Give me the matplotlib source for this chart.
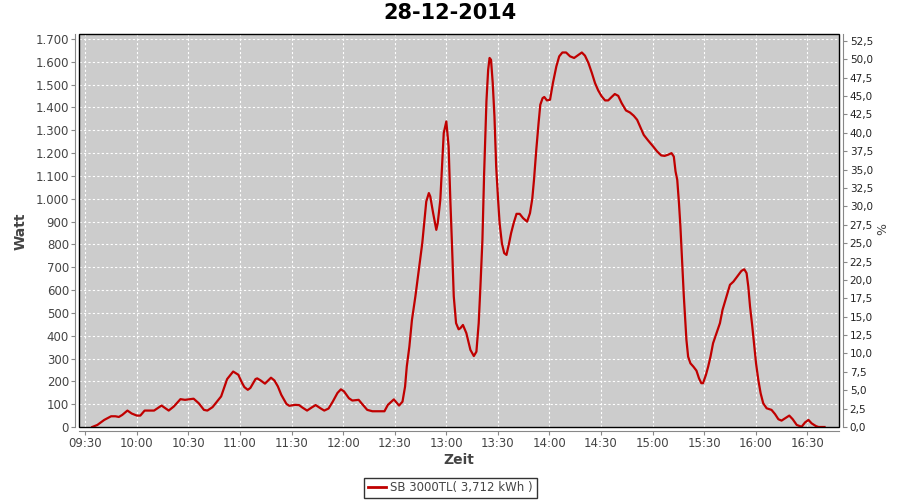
import datetime as dt
import matplotlib
matplotlib.use('Agg')
import matplotlib.pyplot as plt
import matplotlib.dates as mdates
import pandas as pd
from matplotlib.patches import Rectangle
from matplotlib.lines import Line2D
from matplotlib.ticker import MultipleLocator, FuncFormatter

# Textos
titel = '28-12-2014'
serie = 'SB 3000TL( 3,712 kWh )'
x_label = 'Zeit'
y_label = 'Watt'
y2_label = '%'

zeiten = [
    '09:34:00', '09:37:00', '09:41:00', '09:45:00', '09:47:30', '09:49:30', '09:51:30',
    '09:54:30', '09:57:00', '10:00:00', '10:02:00', '10:04:30', '10:10:00', '10:14:20',
    '10:18:30', '10:21:30', '10:25:20', '10:28:00', '10:33:00', '10:36:00', '10:39:00',
    '10:41:00', '10:44:00', '10:49:00', '10:52:30', '10:56:00', '10:59:00', '11:01:00',
    '11:02:30', '11:04:30', '11:06:00', '11:09:00', '11:10:00', '11:12:00', '11:14:30',
    '11:18:00', '11:20:00', '11:22:00', '11:24:00', '11:27:00', '11:28:40', '11:32:00',
    '11:34:20', '11:36:20', '11:39:00', '11:42:00', '11:44:00', '11:47:00', '11:49:00',
    '11:51:30', '11:54:00', '11:56:40', '11:58:40', '12:00:30', '12:03:20', '12:05:20',
    '12:09:00', '12:11:00', '12:14:00', '12:17:00', '12:24:00', '12:26:00', '12:29:30',
    '12:32:30', '12:34:30', '12:36:00', '12:37:00', '12:38:30', '12:40:00', '12:42:00',
    '12:44:00', '12:46:00', '12:47:20', '12:48:20', '12:49:50', '12:50:40', '12:52:20',
    '12:54:10', '12:55:00', '12:56:30', '12:57:30', '12:58:30', '13:00:00', '13:01:20',
    '13:02:20', '13:03:20', '13:04:20', '13:05:40', '13:07:10', '13:08:10', '13:09:40',
    '13:11:40', '13:14:00', '13:16:00', '13:17:30', '13:18:50', '13:19:50', '13:21:00',
    '13:22:00', '13:23:20', '13:24:20', '13:25:10', '13:26:00', '13:27:00', '13:28:00',
    '13:29:00', '13:30:00', '13:31:00', '13:32:20', '13:33:40', '13:35:00', '13:36:30',
    '13:37:40', '13:39:10', '13:40:50', '13:42:40', '13:44:40', '13:47:00', '13:48:40',
    '13:50:00', '13:51:00', '13:52:20', '13:53:40', '13:54:40', '13:56:00', '13:57:00',
    '13:58:30', '14:00:20', '14:02:00', '14:04:00', '14:05:40', '14:07:30', '14:09:40',
    '14:12:00', '14:14:20', '14:16:10', '14:18:50', '14:20:40', '14:22:40', '14:24:40',
    '14:26:30', '14:28:20', '14:30:20', '14:32:20', '14:34:10', '14:36:10', '14:38:00',
    '14:40:00', '14:42:00', '14:44:30', '14:46:50', '14:49:00', '14:51:00', '14:52:40',
    '14:54:50', '14:57:20', '15:00:20', '15:02:40', '15:05:00', '15:07:00', '15:09:00',
    '15:11:00', '15:12:20', '15:13:20', '15:14:20', '15:15:20', '15:16:10', '15:16:50',
    '15:17:20', '15:18:10', '15:19:00', '15:19:40', '15:20:40', '15:22:00', '15:23:40',
    '15:25:30', '15:27:00', '15:28:20', '15:29:20', '15:31:00', '15:32:20', '15:33:40',
    '15:35:10', '15:37:10', '15:39:10', '15:40:40', '15:42:40', '15:45:00', '15:47:00',
    '15:49:10', '15:51:40', '15:53:20', '15:54:40', '15:55:40', '15:56:40', '15:58:00',
    '15:59:10', '16:00:10', '16:01:30', '16:02:50', '16:04:20', '16:06:20', '16:09:10',
    '16:11:10', '16:13:10', '16:15:00', '16:17:00', '16:19:30', '16:21:30', '16:23:50',
    '16:26:40', '16:28:40', '16:30:40', '16:32:30', '16:35:00', '16:36:30', '16:40:00',
]
watt = [
    0, 9, 31, 47, 47, 44, 53,
    72, 59, 50, 50, 72, 72, 94,
    72, 90, 122, 119, 124, 104, 75,
    72, 87, 134, 210, 243, 229, 196,
    175, 163, 171, 210, 213, 204, 190,
    216, 204, 178, 141, 101, 93, 97,
    96, 85, 72, 87, 96, 81, 72,
    81, 112, 149, 165, 156, 126, 116,
    119, 101, 75, 69, 69, 97, 121,
    94, 111, 177, 265, 352, 469, 572,
    689, 805, 908, 988, 1025, 1010, 937,
    864, 893, 995, 1142, 1288, 1339, 1229,
    995, 791, 572, 455, 428, 433, 447,
    411, 338, 311, 330, 455, 615, 820,
    1112, 1427, 1565, 1617, 1609, 1507, 1361,
    1142, 1010, 893, 805, 762, 754, 805,
    849, 893, 934, 934, 915, 900, 937,
    1000, 1083, 1215, 1332, 1412, 1441, 1446,
    1431, 1434, 1507, 1580, 1624, 1641, 1641,
    1624, 1617, 1627, 1641, 1627, 1595, 1551,
    1507, 1475, 1449, 1431, 1431, 1446, 1459,
    1451, 1419, 1387, 1378, 1364, 1346, 1317,
    1280, 1256, 1229, 1207, 1190, 1188, 1193,
    1200, 1185, 1120, 1083, 981, 879, 776,
    689, 572, 469, 382, 308, 279, 265,
    247, 213, 192, 192, 228, 265, 308,
    367, 411, 455, 513, 564, 623, 637,
    659, 684, 691, 674, 615, 528, 440,
    352, 279, 206, 148, 104, 82, 75,
    57, 34, 28, 38, 50, 34, 9,
    1, 20, 31, 16, 4, 0, 0,
]

t = pd.to_datetime(['2014-12-28 ' + z for z in zeiten]).to_pydatetime()

rot = '#C00000'
grau_text = '#444444'
grau_achse = '#888888'

fig = plt.figure(figsize=(9, 5), dpi=100)
ax = fig.add_axes([79.3 / 900, 73 / 500, 760 / 900, 393 / 500])
ax.set_facecolor('#CCCCCC')

ax.plot(t, watt, color=rot, lw=1.6, zorder=3)

# Achsenbereiche
ax.set_xlim(dt.datetime(2014, 12, 28, 9, 26, 30), dt.datetime(2014, 12, 28, 16, 48, 36))
ax.set_ylim(0, 1722)
ax.xaxis.set_major_locator(mdates.MinuteLocator(byminute=[0, 30]))
ax.xaxis.set_major_formatter(mdates.DateFormatter('%H:%M'))
ax.yaxis.set_major_locator(MultipleLocator(100))
ax.yaxis.set_major_formatter(FuncFormatter(lambda v, p: f'{int(round(v)):,}'.replace(',', '.')))

ax.grid(True, color='white', linestyle=(0, (2, 2)), lw=0.8)
ax.set_axisbelow(True)

# Spines
for s in ['top', 'right']:
    ax.spines[s].set_visible(False)
for s in ['left', 'bottom']:
    ax.spines[s].set_position(('outward', 3))
    ax.spines[s].set_color(grau_achse)
ax.tick_params(axis='both', colors=grau_achse, labelcolor=grau_text, labelsize=8.5,
               length=3, width=0.8, pad=1.5)

# rechte Achse in Prozent
ax2 = ax.twinx()
ax2.set_ylim(0, 53.44)
ax2.yaxis.set_major_locator(MultipleLocator(2.5))
ax2.yaxis.set_major_formatter(FuncFormatter(lambda v, p: f'{v:.1f}'.replace('.', ',')))
for s in ['top', 'left', 'bottom']:
    ax2.spines[s].set_visible(False)
ax2.spines['right'].set_position(('outward', 3))
ax2.spines['right'].set_color(grau_achse)
ax2.tick_params(axis='y', colors=grau_achse, labelcolor='#222222', labelsize=7.5,
                length=3, width=0.8, pad=1.5)

# Rahmen Plotbereich
ax2.add_patch(Rectangle((0, 0), 1, 1, transform=ax.transAxes, fill=False,
                        edgecolor='black', lw=1, clip_on=False, zorder=5))

# Beschriftungen
fig.text(0.5, 1 - 13 / 500, titel, ha='center', va='center', fontsize=15, fontweight='bold')
fig.text(20.5 / 900, 1 - 231 / 500, y_label, rotation=90, ha='center', va='center',
         fontsize=10, fontweight='bold', color=grau_text)
fig.text(459.3 / 900, 1 - 459.7 / 500, x_label, ha='center', va='center',
         fontsize=10, fontweight='bold', color=grau_text)
fig.text(882.3 / 900, 1 - 229.3 / 500, y2_label, rotation=90, ha='center', va='center',
         fontsize=9, color=grau_text)

# Legende
h = Line2D([], [], color=rot, lw=2)
leg = fig.legend([h], [serie], loc='center', bbox_to_anchor=(450.5 / 900, 1 - 488 / 500),
                 frameon=True, fancybox=False, edgecolor='black', fontsize=8.5,
                 handlelength=1.5, handletextpad=0.4, borderpad=0.3, borderaxespad=0)
leg.get_frame().set_linewidth(1)
for txt in leg.get_texts():
    txt.set_color(grau_text)

fig.savefig('out.png', dpi=100)
